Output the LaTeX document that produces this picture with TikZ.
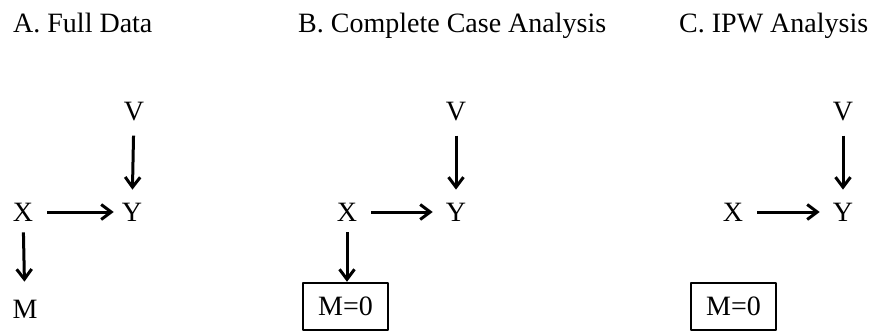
\documentclass[tikz,border=0pt]{standalone}
\usepackage{fontspec}
\setmainfont{Liberation Serif}
\usetikzlibrary{arrows.meta}
\begin{document}
\begin{tikzpicture}[x=1pt, y=-1pt, font=\fontsize{28}{32}\selectfont, line join=round,
		var/.style={inner sep=0pt},
		title/.style={anchor=base west, inner sep=0pt},
		mbox/.style={draw, line width=2.4pt, minimum width=85pt, minimum height=47pt, inner sep=0pt},
		cause/.style={-{Straight Barb[length=10pt, width=15pt, line width=3pt]}, line width=3pt, shorten <=14pt, shorten >=13pt}]
	\useasboundingbox (0,0) rectangle (878,335);
	% titles
	\node[title] (tA) at (13,32) {A. Full Data};
	\node[title] (tB) at (298,32) {B. Complete Case Analysis};
	\node[title] (tC) at (679,32) {C. IPW Analysis};
	% A
	\node[var] (VA) at (134,112) {V};
	\node[var] (XA) at (23,212) {X};
	\node[var] (YA) at (132,212) {Y};
	\node[var] (MA) at (25,309) {M};
	\draw[cause, shorten >=8pt] (XA)--(YA);
	\draw[cause] (VA)--(YA);
	\draw[cause, shorten <=11pt, shorten >=18pt] (XA)--(MA);
	% B
	\node[var] (VB) at (456,112) {V};
	\node[var] (XB) at (347,212) {X};
	\node[var] (YB) at (456,212) {Y};
	\node[mbox] (MB) at (345.5,306.5) {M=0};
	\draw[cause] (XB)--(YB);
	\draw[cause] (VB)--(YB);
	\draw[cause, shorten <=11pt, shorten >=0pt] (XB)--(XB|-MB.north);
	% C
	\node[var] (VC) at (843,112) {V};
	\node[var] (XC) at (733,212) {X};
	\node[var] (YC) at (843,212) {Y};
	\node[mbox] (MC) at (733.5,306.5) {M=0};
	\draw[cause] (XC)--(YC);
	\draw[cause] (VC)--(YC);
\end{tikzpicture}
\end{document}
